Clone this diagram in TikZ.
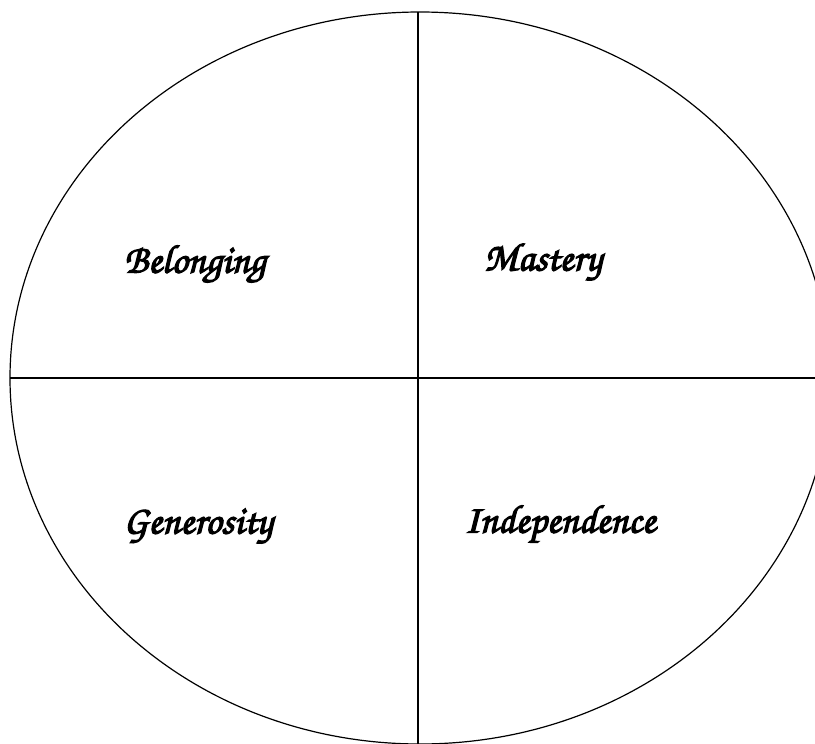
\documentclass[tikz,border=0pt]{standalone}
\usepackage{fontspec}
\newfontfamily\myscript[FakeBold=3]{TeX Gyre Chorus}
\begin{document}
\begin{tikzpicture}[x=1pt,y=-1pt,
  lbl/.style={font=\myscript\fontsize{40}{44}\selectfont, inner sep=0pt},
  edge/.style={line width=1.2pt, black}]
\useasboundingbox (0,0) rectangle (815,744);
\begin{scope}
\clip (0,0) rectangle (815,744);
\draw[edge] (420,378) ellipse [x radius=410, y radius=366];
\coordinate (L) at (10,378);
\coordinate (R) at (815,378);
\coordinate (T) at (418,12);
\coordinate (B) at (418,744);
\draw[edge] (L) -- (R);
\draw[edge] (T) -- (B);
\end{scope}
\node[lbl] (bel) at (195,264) {Belonging};
\node[lbl] (mas) at (543,262) {Mastery};
\node[lbl] (gen) at (198,526) {Generosity};
\node[lbl] (ind) at (560,524) {Independence};
\end{tikzpicture}
\end{document}
